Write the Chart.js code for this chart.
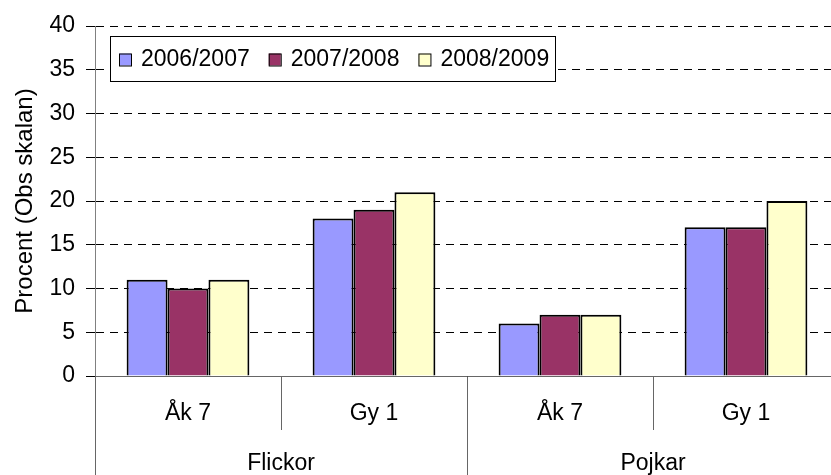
<!DOCTYPE html>
<html>
<head>
<meta charset="utf-8">
<script src="https://cdn.jsdelivr.net/npm/chart.js@4"></script>
<style>
  body { margin: 0; overflow: hidden; background: #fff; }
  #wrap { width: 840px; height: 475px; }
</style>
</head>
<body>
<div id="wrap"><canvas id="barChart"></canvas></div>
<script>
const categories = ["Åk 7", "Gy 1", "Åk 7", "Gy 1"];
const groups = ["Flickor", "Pojkar"];
const years = ["2006/2007", "2007/2008", "2008/2009"];
const values0607 = [11, 18, 6, 17];
const values0708 = [10, 19, 7, 17];
const values0809 = [11, 21, 7, 20];
const colors = ["#9999FF", "#993366", "#FFFFCC"];

const FONT = "'Liberation Sans', Arial, sans-serif";

// legend drawn as a framed box inside the plot, like the original
const boxLegend = {
    id: "boxLegend",
    afterDraw(chart) {
        const ctx = chart.ctx;
        const x0 = 110, y0 = 36, w = 445, h = 45;
        ctx.save();
        ctx.fillStyle = "#fff";
        ctx.fillRect(x0, y0, w, h);
        ctx.strokeStyle = "#000";
        ctx.lineWidth = 1;
        ctx.strokeRect(x0 + 0.5, y0 + 0.5, w, h);
        ctx.font = "23px " + FONT;
        ctx.textBaseline = "middle";
        ctx.fillStyle = "#000";
        let x = 119;
        const cy = y0 + h / 2 + 1;
        chart.data.datasets.forEach((ds) => {
            ctx.fillStyle = ds.backgroundColor;
            ctx.fillRect(x, cy - 6, 12, 12);
            ctx.strokeRect(x + 0.5, cy - 5.5, 12, 12);
            ctx.fillStyle = "#000";
            ctx.fillText(ds.label, x + 22, cy);
            x += 22 + ctx.measureText(ds.label).width + 19;
        });
        ctx.restore();
    },
};

const ctx = document.getElementById("barChart").getContext("2d");

new Chart(ctx, {
    type: "bar",
    data: {
        labels: categories,
        datasets: [
            { label: years[0], data: values0607, backgroundColor: colors[0] },
            { label: years[1], data: values0708, backgroundColor: colors[1] },
            { label: years[2], data: values0809, backgroundColor: colors[2] },
        ],
    },
    options: {
        responsive: true,
        maintainAspectRatio: false,
        devicePixelRatio: 1,
        animation: false,
        layout: { padding: { top: 26, right: 1, left: 0, bottom: 0 } },
        datasets: {
            bar: {
                borderColor: "#000",
                borderWidth: 2,
                barPercentage: 1,
                categoryPercentage: 0.66,
            },
        },
        plugins: {
            legend: { display: false },
            tooltip: { enabled: false },
        },
        scales: {
            y: {
                min: 0,
                max: 40,
                ticks: { stepSize: 5, color: "#000", padding: 11, font: { family: FONT, size: 23 } },
                grid: { color: "#000", tickLength: 9, tickColor: "#000", tickBorderDash: [] },
                border: { color: "#808080", dash: [8, 6] },
                title: {
                    display: true,
                    text: "Procent (Obs skalan)",
                    color: "#000",
                    padding: { top: 11, bottom: 0 },
                    font: { family: FONT, size: 24 },
                },
                afterFit(scale) { scale.width = 95; },
            },
            x: {
                weight: 0,
                offset: true,
                ticks: { color: "#000", padding: -30, font: { family: FONT, size: 23 } },
                grid: { offset: true, drawOnChartArea: false, tickLength: 54, color: "#666" },
                border: { color: "#666" },
                afterFit(scale) { scale.height = 54; },
            },
            x2: {
                type: "category",
                position: "bottom",
                weight: 1,
                labels: groups,
                offset: true,
                ticks: { color: "#000", padding: -25, font: { family: FONT, size: 23 } },
                grid: { offset: true, drawOnChartArea: false, tickLength: 45, color: "#666" },
                border: { display: false },
                afterFit(scale) { scale.height = 45; },
            },
        },
    },
    plugins: [boxLegend],
});
</script>
</body>
</html>
